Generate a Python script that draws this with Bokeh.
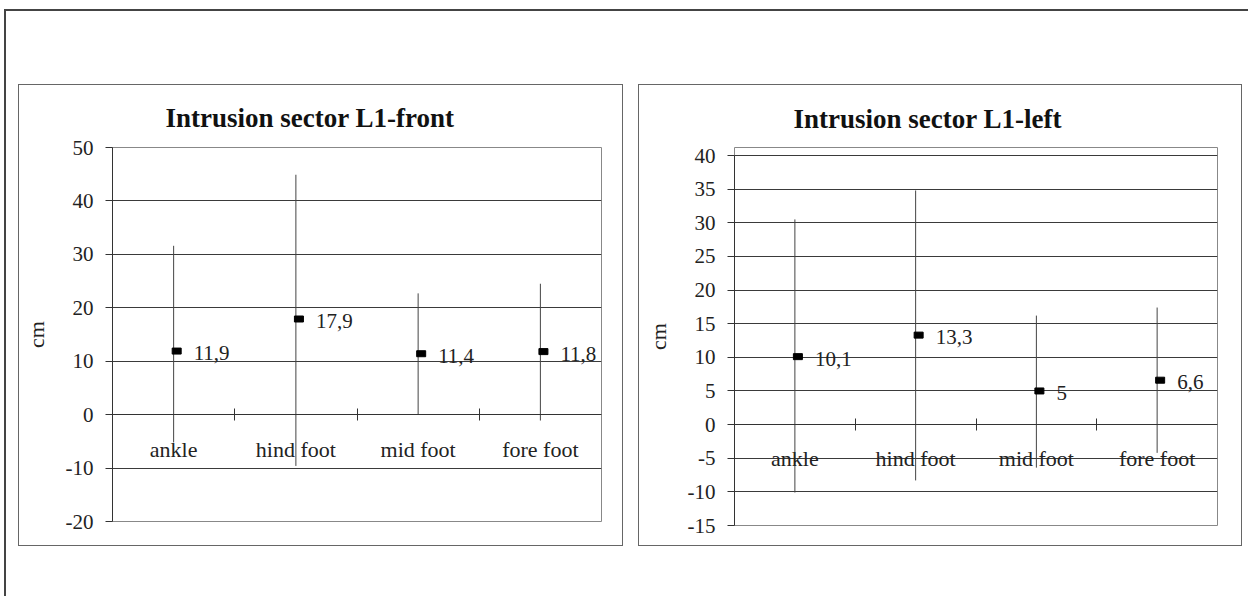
from bokeh.plotting import figure
from bokeh.layouts import row
from bokeh.models import FixedTicker, LinearAxis, Range1d, ColumnDataSource
from bokeh.transform import dodge
from bokeh.core.properties import value
from bokeh.embed import file_html
from bokeh.resources import INLINE

categories = ["ankle", "hind foot", "mid foot", "fore foot"]

# Chart 1: Intrusion sector L1-front
front_mean = [11.9, 17.9, 11.4, 11.8]
front_low = [-5.2, -9.6, 0.0, -1.1]
front_high = [31.6, 44.9, 22.7, 24.5]
front_labels = ["11,9", "17,9", "11,4", "11,8"]
front_ticks = [-20, -10, 0, 10, 20, 30, 40, 50]

# Chart 2: Intrusion sector L1-left
left_mean = [10.1, 13.3, 5.0, 6.6]
left_low = [-10.1, -8.3, -6.4, -4.2]
left_high = [30.5, 34.8, 16.2, 17.4]
left_labels = ["10,1", "13,3", "5", "6,6"]
left_ticks = [-15, -10, -5, 0, 5, 10, 15, 20, 25, 30, 35, 40]

SERIF = "Liberation Serif"

n = len(categories)
centers = [i + 0.5 for i in range(n)]          # category slot centres
boundaries = list(range(1, n))                 # slot boundaries (Excel-style ticks)


def make_chart(title_text, mean, low, high, labels, ticks, y_start, y_end, bounds,
               width, height, mbl, mbr, mbt, mbb, title_offset, title_standoff,
               cat_standoff, margin):
    p = figure(x_range=Range1d(0, n), y_range=Range1d(y_start, y_end),
               width=width, height=height, output_backend="svg", toolbar_location=None,
               min_border_left=mbl, min_border_right=mbr, min_border_top=mbt,
               min_border_bottom=mbb, margin=margin, frame_align=False,
               styles={"border": "1px solid #666"})
    p.background_fill_color = "white"
    p.border_fill_color = "white"
    p.outline_line_color = "#888"

    p.title.text = title_text
    p.title.align = "left"
    p.title.offset = title_offset
    p.title.standoff = title_standoff
    p.title.text_font = SERIF
    p.title.text_font_size = "27px"
    p.title.text_font_style = "bold"
    p.title.text_color = "#111"

    # y axis
    yax = p.yaxis[0]
    yax.ticker = FixedTicker(ticks=ticks)
    yax.major_label_overrides = {t: str(t) for t in ticks}
    yax.bounds = bounds
    yax.major_tick_in = 0
    yax.major_tick_out = 7
    yax.major_tick_line_color = "#333"
    yax.axis_line_color = "#333"
    yax.major_label_standoff = 12
    yax.major_label_text_font = SERIF
    yax.major_label_text_font_size = "21px"
    yax.major_label_text_color = "#222"
    yax.axis_label = "cm"
    yax.axis_label_text_font = SERIF
    yax.axis_label_text_font_size = "22px"
    yax.axis_label_text_font_style = "normal"
    yax.axis_label_text_color = "#222"
    yax.axis_label_standoff = 14

    p.ygrid.ticker = FixedTicker(ticks=ticks)
    p.ygrid.grid_line_color = "#3a3a3a"
    p.xgrid.grid_line_color = None

    # category axis crossing at zero (labels only)
    xax = p.xaxis[0]
    xax.ticker = FixedTicker(ticks=centers)
    xax.major_label_overrides = {c: name for c, name in zip(centers, categories)}
    xax.fixed_location = 0
    xax.major_tick_line_color = None
    xax.minor_tick_line_color = None
    xax.axis_line_color = "#333"
    xax.major_label_standoff = cat_standoff
    xax.major_label_text_font = SERIF
    xax.major_label_text_font_size = "22px"
    xax.major_label_text_color = "#222"

    # boundary tick marks between categories
    bax = LinearAxis(ticker=FixedTicker(ticks=boundaries),
                     fixed_location=0, major_tick_in=6, major_tick_out=6,
                     major_tick_line_color="#333", axis_line_color=None,
                     minor_tick_line_color=None, major_label_text_color=None,
                     major_label_text_font_size="0px")
    p.add_layout(bax, "below")

    src = ColumnDataSource(dict(x=centers, mean=mean, low=low, high=high, lab=labels))
    p.segment(x0="x", y0="low", x1="x", y1="high", source=src,
              line_color="#444", line_width=1)
    p.rect(x=dodge("x", 0.025), y="mean", width=9, height=6,
           width_units="screen", height_units="screen", source=src,
           fill_color="black", line_color="black")
    p.text(x="x", y="mean", text="lab", source=src, x_offset=20, y_offset=2,
           text_baseline="middle", text_align="left",
           text_font=value(SERIF), text_font_size="21px", text_color="#222")
    return p


p1 = make_chart("Intrusion sector L1-front", front_mean, front_low, front_high, front_labels,
                front_ticks, -20, 50, "auto",
                605, 462, 93, 23, 62, 26, 53, 29, 16, (73, 0, 50, 12))

top_extra = 8 / 6.727
p2 = make_chart("Intrusion sector L1-left", left_mean, left_low, left_high, left_labels,
                left_ticks, -15, 40 + top_extra, (-15, 40),
                604, 462, 95, 26, 62, 22, 59, 28, 15, (73, 6, 50, 15))

root = row(p1, p2, margin=(9, 0, 0, 4),
           styles={"border-top": "2px solid #444", "border-left": "2px solid #444",
                   "background-color": "white"})

open("out.html", "w").write(file_html(root, INLINE))
